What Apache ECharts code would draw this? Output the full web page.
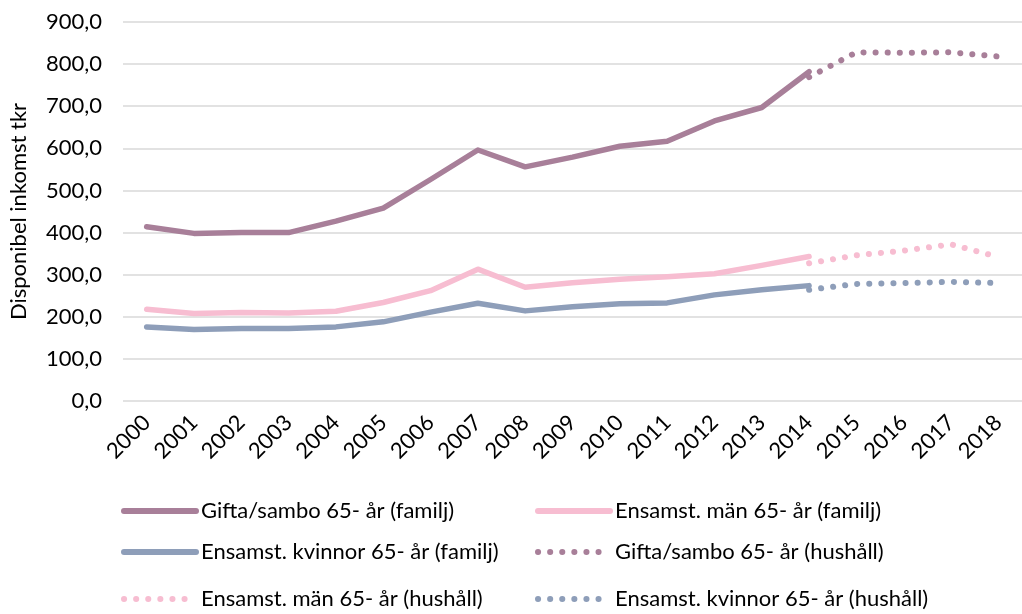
<!DOCTYPE html>
<html>
<head>
<meta charset="utf-8">
<script src="https://cdn.jsdelivr.net/npm/echarts@6/dist/echarts.min.js"></script>
<style>
  html, body { margin: 0; padding: 0; background: #fff; }
  #chart { width: 1022px; height: 614px; }
</style>
</head>
<body>
<div id="chart"></div>
<script>
const years = ['2000','2001','2002','2003','2004','2005','2006','2007','2008','2009',
               '2010','2011','2012','2013','2014','2015','2016','2017','2018'];

// familj 2000-2014, hushåll 2014-2018
const giftaFamilj = [414, 398, 400, 400, 427, 458, 526, 596, 556, 579, 605, 617, 665, 697, 782];
const manFamilj = [218, 208, 210, 209, 213, 234, 262, 313, 270, 281, 289, 295, 302, 322, 343];
const kvinnorFamilj = [176, 170, 172, 172, 176, 188, 211, 232, 214, 224, 231, 233, 252, 264, 274];
const giftaHushall = [769, 828, 827, 828, 818];
const manHushall = [327, 346, 357, 372, 342];
const kvinnorHushall = [264, 278, 280, 283, 280];

const cGifta = '#a87f99';
const cMan = '#f7bdd1';
const cKvinnor = '#8e9eb9';

const font = 'Lato, "Open Sans", sans-serif';

// hushåll-serierna börjar 2014
const pad = (arr) => Array(14).fill(null).concat(arr);

const chart = echarts.init(document.getElementById('chart'));

function solid(name, data, color) {
  return {
    name, type: 'line', data, symbol: 'none', smooth: false,
    lineStyle: { color, width: 5.5, cap: 'round', join: 'round' },
    itemStyle: { color }
  };
}
function dotted(name, data, color) {
  return {
    name, type: 'line', data: pad(data), symbol: 'none', smooth: false,
    lineStyle: { color, width: 6, type: [0.1, 12], cap: 'round' },
    itemStyle: { color }
  };
}

const names = [
  'Gifta/sambo 65- år (familj)',
  'Ensamst. män 65- år (familj)',
  'Ensamst. kvinnor 65- år (familj)',
  'Gifta/sambo 65- år (hushåll)',
  'Ensamst. män 65- år (hushåll)',
  'Ensamst. kvinnor 65- år (hushåll)'
];

const legendPos = [
  [121, 500], [535, 500],
  [121, 541], [535, 541],
  [121, 588], [535, 588]
];

const option = {
  animation: false,
  backgroundColor: '#fff',
  grid: { left: 120, right: -9, top: 22, bottom: 213 },
  xAxis: {
    type: 'category',
    data: years,
    boundaryGap: true,
    axisLine: { show: false },
    axisTick: { show: false },
    axisLabel: {
      rotate: 45, color: '#000', fontSize: 22, fontFamily: font,
      margin: 18, interval: 0
    },
    splitLine: { show: false }
  },
  yAxis: {
    type: 'value',
    min: 0, max: 900, interval: 100,
    name: 'Disponibel inkomst tkr',
    nameLocation: 'middle',
    nameGap: 93,
    nameRotate: 90,
    nameTextStyle: { color: '#000', fontSize: 22, fontFamily: font },
    axisLine: { show: false },
    axisTick: { show: false },
    axisLabel: {
      color: '#000', fontSize: 22, fontFamily: font, margin: 21,
      formatter: (v) => v.toFixed(1).replace('.', ',')
    },
    splitLine: { lineStyle: { color: '#d9d9d9', width: 1.5 } }
  },
  legend: names.map((n, i) => ({
    data: [n],
    left: legendPos[i][0],
    top: legendPos[i][1],
    padding: 0,
    itemWidth: 72,
    itemHeight: 14,
    itemStyle: { opacity: 0 },
    lineStyle: { width: 6 },
    textStyle: { color: '#000', fontSize: 22, fontFamily: font },
    selectedMode: false
  })),
  series: [
    solid(names[0], giftaFamilj, cGifta),
    solid(names[1], manFamilj, cMan),
    solid(names[2], kvinnorFamilj, cKvinnor),
    dotted(names[3], giftaHushall, cGifta),
    dotted(names[4], manHushall, cMan),
    dotted(names[5], kvinnorHushall, cKvinnor)
  ]
};

chart.setOption(option);
</script>
</body>
</html>
